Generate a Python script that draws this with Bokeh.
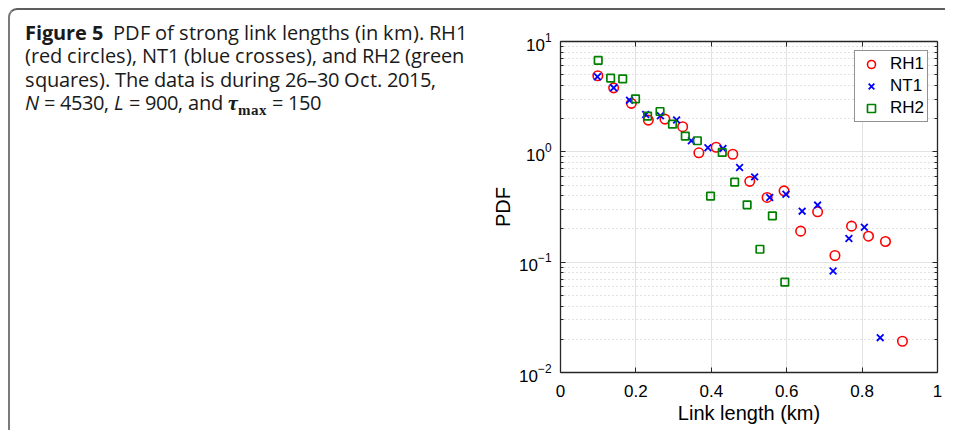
from bokeh.plotting import figure
from bokeh.models import (FixedTicker, LinearAxis, LogAxis, Legend, LegendItem, Div,
                          ColumnDataSource, CustomJSTickFormatter, LogTickFormatter)
from bokeh.layouts import row
from bokeh.embed import file_html
from bokeh.resources import INLINE

# ---- data ----
rh1_x = [0.099, 0.141, 0.188, 0.233, 0.277, 0.324, 0.367, 0.413, 0.457, 0.502,
         0.548, 0.593, 0.637, 0.682, 0.728, 0.772, 0.817, 0.862, 0.907]
rh1_pdf = [4.89, 3.80, 2.75, 1.94, 1.98, 1.69, 0.98, 1.10, 0.95, 0.54,
           0.386, 0.443, 0.191, 0.286, 0.115, 0.212, 0.172, 0.154, 0.0192]

nt1_x = [0.098, 0.141, 0.183, 0.226, 0.265, 0.308, 0.347, 0.391, 0.431, 0.475,
         0.515, 0.555, 0.598, 0.641, 0.682, 0.723, 0.765, 0.806, 0.848]
nt1_pdf = [4.79, 3.80, 2.94, 2.18, 2.12, 1.94, 1.26, 1.09, 1.07, 0.72,
           0.593, 0.386, 0.413, 0.29, 0.329, 0.083, 0.164, 0.207, 0.0207]

rh2_x = [0.100, 0.133, 0.165, 0.199, 0.231, 0.264, 0.297, 0.331, 0.363, 0.398,
         0.429, 0.462, 0.495, 0.529, 0.562, 0.595]
rh2_pdf = [6.74, 4.66, 4.59, 3.02, 2.11, 2.32, 1.78, 1.39, 1.26, 0.396,
           0.987, 0.531, 0.331, 0.131, 0.263, 0.066]

series_names = ["RH1", "NT1", "RH2"]

x_ticks = [0, 0.2, 0.4, 0.6, 0.8, 1]
x_tick_labels = ["0", "0.2", "0.4", "0.6", "0.8", "1"]
y_ticks = [0.01, 0.1, 1, 10]
y_minor = [m * d for d in [0.01, 0.1, 1] for m in [2, 3, 4, 5, 6, 7, 8, 9]]

x_label = "Link length (km)"
y_label = "PDF"

caption_html = (
    "<div style=\"font-family:'CapSans','Open Sans'; font-size:19.6px; line-height:23.3px; color:#1a1a1a;"
    " white-space:nowrap; padding:13px 0 0 15px;\">"
    "<b>Figure 5</b>&nbsp; PDF of strong link lengths (in km). RH1<br>"
    "(red circles), NT1 (blue crosses), and RH2 (green<br>"
    "squares). The data is during 26\u201330 Oct. 2015,<br>"
    "<i>N</i> = 4530, <i>L</i> = 900, and "
    "<span style=\"font-family:'CapSerif','Liberation Serif'; font-weight:bold; font-style:italic; font-size:22px;\">\u03c4</span>"
    "<sub style=\"font-family:'CapSerif','Liberation Serif'; font-size:15px; font-weight:bold; line-height:0;\">max</sub> = 150"
    "</div>"
)

# tighter line boxes for the caption fonts (same glyphs, installed fonts only)
font_css = """<style>
@font-face { font-family: 'CapSans'; font-weight: 400; font-style: normal;
  src: local('Open Sans'), local('Open Sans Regular'), local('OpenSans-Regular');
  ascent-override: 78%; descent-override: 22%; }
@font-face { font-family: 'CapSans'; font-weight: 700; font-style: normal;
  src: local('Open Sans Bold'), local('OpenSans-Bold');
  ascent-override: 78%; descent-override: 22%; }
@font-face { font-family: 'CapSans'; font-weight: 400; font-style: italic;
  src: local('Open Sans Italic'), local('OpenSans-Italic');
  ascent-override: 78%; descent-override: 22%; }
@font-face { font-family: 'CapSerif'; font-weight: 700; font-style: italic;
  src: local('Liberation Serif Bold Italic'), local('LiberationSerif-BoldItalic');
  ascent-override: 78%; descent-override: 22%; }
@font-face { font-family: 'CapSerif'; font-weight: 700; font-style: normal;
  src: local('Liberation Serif Bold'), local('LiberationSerif-Bold');
  ascent-override: 78%; descent-override: 22%; }
</style>"""

AX = "#262626"
FONT = "Liberation Sans"

p = figure(width=467, height=420, x_range=(0, 1), y_range=(0.01, 10),
           y_axis_type="log", output_backend="svg", toolbar_location=None,
           min_border_left=82, min_border_right=8, min_border_top=31, min_border_bottom=58,
           background_fill_color="white", border_fill_color="white")
p.outline_line_color = None

yt = FixedTicker(ticks=y_ticks, minor_ticks=y_minor)
xt = FixedTicker(ticks=x_ticks)
blank = CustomJSTickFormatter(code="return ''")

for ax in (p.xaxis[0], p.yaxis[0]):
    ax.axis_line_color = AX
    ax.axis_line_width = 1.3
    ax.major_tick_line_color = AX
    ax.minor_tick_line_color = AX
    ax.major_tick_in = 5
    ax.major_tick_out = 0
    ax.minor_tick_in = 3
    ax.minor_tick_out = 0
    ax.major_label_text_font = FONT
    ax.major_label_text_font_size = "17px"
    ax.major_label_text_color = "black"
    ax.axis_label_text_font = FONT
    ax.axis_label_text_font_size = "20px"
    ax.axis_label_text_font_style = "normal"
    ax.axis_label_text_color = "black"

p.xaxis.ticker = xt
p.xaxis.major_label_overrides = dict(zip(x_ticks, x_tick_labels))
p.xaxis.minor_tick_line_color = None
p.xaxis.major_label_standoff = 12
p.xaxis.axis_label = x_label
p.xaxis.axis_label_standoff = 2

p.yaxis.ticker = yt
p.yaxis.formatter = LogTickFormatter()
p.yaxis.major_label_standoff = 9
p.yaxis.axis_label = y_label
p.yaxis.axis_label_standoff = 2

top_ax = LinearAxis(ticker=xt, formatter=blank, axis_line_color=AX, axis_line_width=1.3,
                    major_tick_line_color=AX, major_tick_in=5, major_tick_out=0,
                    minor_tick_line_color=None, major_label_standoff=0)
right_ax = LogAxis(ticker=yt, formatter=blank, axis_line_color=AX, axis_line_width=1.3,
                   major_tick_line_color=AX, minor_tick_line_color=AX,
                   major_tick_in=5, major_tick_out=0, minor_tick_in=3, minor_tick_out=0,
                   major_label_standoff=0)
p.add_layout(top_ax, "above")
p.add_layout(right_ax, "right")

p.xgrid.ticker = xt
p.xgrid.grid_line_color = "#e2e2e2"
p.xgrid.grid_line_width = 1
p.ygrid.ticker = yt
p.ygrid.grid_line_color = "#e2e2e2"
p.ygrid.grid_line_width = 1
p.ygrid.minor_grid_line_color = "#c4c4c4"
p.ygrid.minor_grid_line_dash = "1 3"
p.ygrid.minor_grid_line_width = 1

src1 = ColumnDataSource(dict(x=rh1_x, y=rh1_pdf))
src2 = ColumnDataSource(dict(x=nt1_x, y=nt1_pdf))
src3 = ColumnDataSource(dict(x=rh2_x, y=rh2_pdf))

r1 = p.scatter("x", "y", source=src1, marker="circle", size=9.5, fill_color=None,
               line_color="#ff0000", line_width=1.6)
r2 = p.scatter("x", "y", source=src2, marker="x", size=9.5, line_color="#0000ff", line_width=1.8)
r3 = p.scatter("x", "y", source=src3, marker="square", size=7.5, fill_color=None,
               line_color="#008000", line_width=1.7)

legend = Legend(items=[LegendItem(label=n, renderers=[r]) for n, r in zip(series_names, [r1, r2, r3])],
                location="top_right", margin=9, padding=3, spacing=2,
                glyph_width=26, glyph_height=20, label_height=20, label_standoff=6,
                label_text_font=FONT, label_text_font_size="17px", label_text_color="black",
                border_line_color=AX, border_line_width=1, background_fill_alpha=1.0)
p.add_layout(legend)

cap = Div(text=caption_html, width=468, height=420, margin=0)

layout = row(cap, p, margin=(8, 0, 0, 8),
             styles={"border-top": "2px solid #5e5e5e", "border-left": "2px solid #7a7a7a",
                     "border-top-left-radius": "9px"})

html = file_html(layout, INLINE)
html = html.replace("<head>", "<head>" + font_css, 1)
open("out.html", "w").write(html)
